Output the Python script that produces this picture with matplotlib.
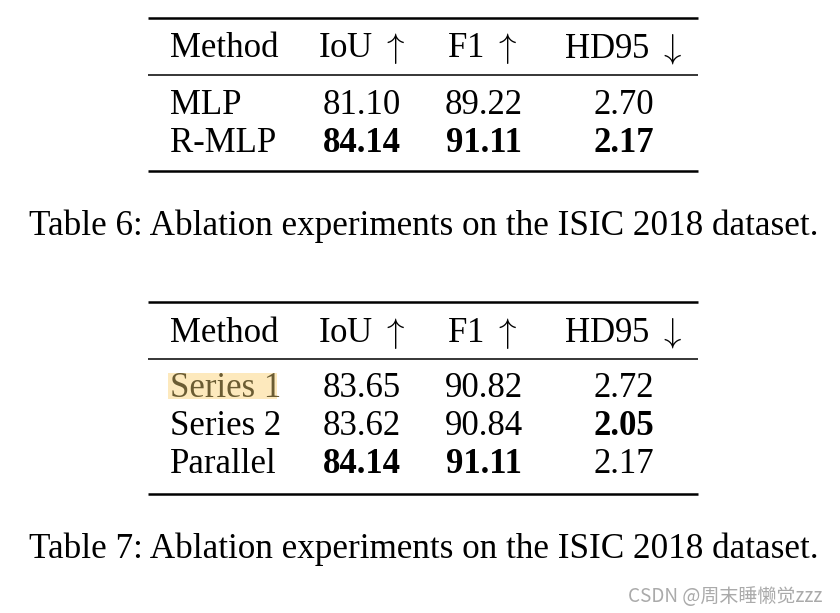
import matplotlib
matplotlib.use("Agg")
import matplotlib.pyplot as plt
from matplotlib.patches import Rectangle

plt.rcParams["mathtext.fontset"] = "cm"

# =========================
# DATA
# =========================
HEADERS = ["Method", r"IoU $\uparrow$", r"F1 $\uparrow$", r"HD95 $\downarrow$"]

T6_METHODS = ["MLP", "R-MLP"]
T6_IOU = ["81.10", "84.14"]
T6_F1 = ["89.22", "91.11"]
T6_HD95 = ["2.70", "2.17"]
T6_BOLD = [[False, False, False], [True, True, True]]
T6_CAPTION = "Table 6: Ablation experiments on the ISIC 2018 dataset."

T7_METHODS = ["Series 1", "Series 2", "Parallel"]
T7_IOU = ["83.65", "83.62", "84.14"]
T7_F1 = ["90.82", "90.84", "91.11"]
T7_HD95 = ["2.72", "2.05", "2.17"]
T7_BOLD = [[False, False, False], [False, False, True], [True, True, False]]
T7_CAPTION = "Table 7: Ablation experiments on the ISIC 2018 dataset."

WATERMARK = "CSDN @周末睡懒觉zzz"

# =========================
# LAYOUT (pixels)
# =========================
W, H = 840, 613
FONT = "Liberation Serif"
FS = 25
CAP_FS = 25.3
RULE_X0, RULE_X1 = 148, 698
THICK_LW = 1.8
THIN_LW = 1.1
METHOD_X = 170
COL_X = [362, 484, 624]
HEAD_X = [362, 482, 623]

fig = plt.figure(figsize=(W / 100, H / 100), dpi=100)
ax = fig.add_axes([0, 0, 1, 1])
ax.set_xlim(0, W)
ax.set_ylim(H, 0)
ax.axis("off")


def rule(y, lw):
    ax.plot([RULE_X0, RULE_X1], [y, y], color="black", lw=lw, solid_capstyle="butt")


def draw_table(top, head_bl, mid, row_bls, bottom, methods, cols, bold,
               caption, cap_bl, highlight=None):
    rule(top, THICK_LW)
    rule(mid, THIN_LW)
    rule(bottom, THICK_LW)

    ax.text(METHOD_X, head_bl, HEADERS[0], family=FONT, fontsize=FS, ha="left", va="baseline")
    for hx, h in zip(HEAD_X, HEADERS[1:]):
        ax.text(hx, head_bl, h, family=FONT, fontsize=FS, ha="center", va="baseline")

    for i, (m, y) in enumerate(zip(methods, row_bls)):
        color = "black"
        if highlight == i:
            ax.add_patch(Rectangle((168, y - 24), 109, 26, facecolor="#fde9bd", edgecolor="none"))
            color = "#6b5c33"
        ax.text(METHOD_X, y, m, family=FONT, fontsize=FS, ha="left", va="baseline", color=color)
        for j, cx in enumerate(COL_X):
            ax.text(cx, y, cols[j][i], family=FONT, fontsize=FS, ha="center", va="baseline",
                    fontweight="bold" if bold[i][j] else "normal")

    ax.text((30 + 818) / 2, cap_bl, caption, family=FONT, fontsize=CAP_FS,
            ha="center", va="baseline")


draw_table(17.5, 57, 75, [114, 152], 171, T6_METHODS, [T6_IOU, T6_F1, T6_HD95],
           T6_BOLD, T6_CAPTION, 235)
draw_table(302, 342, 359, [397, 435, 473], 494, T7_METHODS, [T7_IOU, T7_F1, T7_HD95],
           T7_BOLD, T7_CAPTION, 558, highlight=0)

ax.text(822, 596, WATERMARK, family=["Noto Sans CJK SC", "DejaVu Sans"], fontsize=13.7,
        color="#aaaaaa", ha="right", va="center")

fig.savefig("out.png", dpi=100)
